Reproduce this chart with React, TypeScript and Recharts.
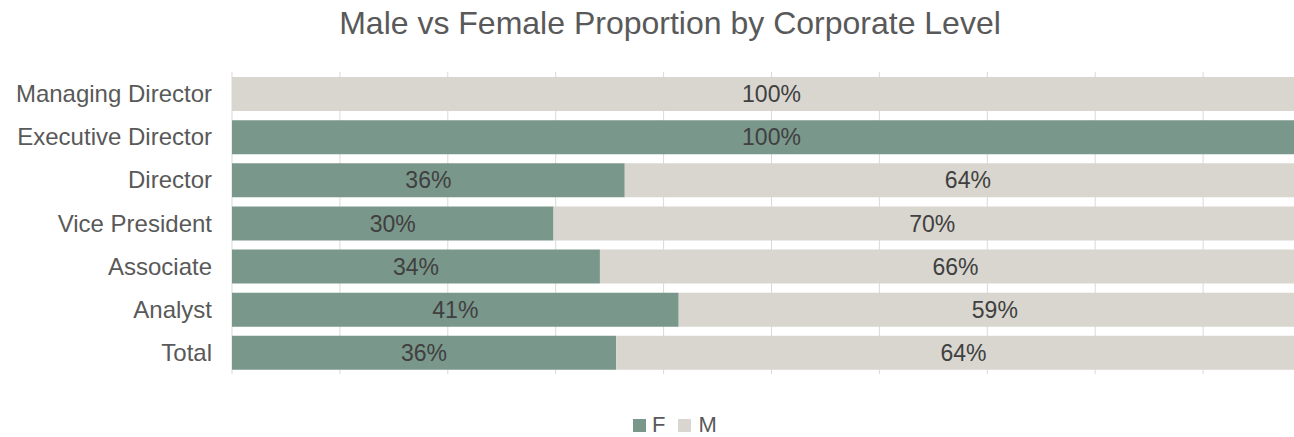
import React from 'react';
import { BarChart, Bar, XAxis, YAxis, CartesianGrid, LabelList } from 'recharts';

const categories = ['Managing Director', 'Executive Director', 'Director', 'Vice President', 'Associate', 'Analyst', 'Total'];
const femaleShare = [0, 1.0, 0.364, 0.298, 0.341, 0.414, 0.356];
const maleShare = [1.0, 0, 0.636, 0.702, 0.659, 0.586, 0.644];
const xTicks = [0, 0.1, 0.2, 0.3, 0.4, 0.5, 0.6, 0.7, 0.8, 0.9, 1.0];

const data = categories.map((name, i) => ({ name, F: femaleShare[i], M: maleShare[i] }));

const F_COLOR = '#7a978b';
const M_COLOR = '#d9d6cf';
const FONT = 'Liberation Sans';

const fmt = (v: any) => (Number(v) > 0 ? `${Math.round(Number(v) * 100)}%` : '');

export default function App() {
  return (
    <div style={{ position: 'relative', width: 1294, height: 437, overflow: 'hidden', fontFamily: FONT, background: '#fff' }}>
      <style>{`body{margin:0;overflow:hidden}`}</style>
      <div style={{ position: 'absolute', top: 3, left: 0, width: 1340, textAlign: 'center', fontSize: 32, lineHeight: '40px', color: '#595959', fontFamily: FONT }}>
        Male vs Female Proportion by Corporate Level
      </div>
      <div style={{ position: 'absolute', top: 0, left: 0 }}>
        <BarChart width={1330} height={437} layout="vertical" data={data} margin={{ top: 72, right: 19, bottom: 63, left: 0 }}>
          <CartesianGrid horizontal={false} vertical={true} stroke="#d9d9d9" strokeWidth={1} />
          <XAxis type="number" domain={[0, 1]} ticks={xTicks} hide />
          <YAxis
            type="category"
            dataKey="name"
            width={232}
            tickLine={false}
            axisLine={false}
            tickSize={0}
            tickMargin={20}
            tick={{ fill: '#595959', fontSize: 24, fontFamily: FONT }}
          />
          <Bar dataKey="F" stackId="a" fill={F_COLOR} barSize={34} isAnimationActive={false}>
            <LabelList dataKey="F" position="center" formatter={fmt} style={{ fill: '#404040', fontSize: 23, fontFamily: FONT }} />
          </Bar>
          <Bar dataKey="M" stackId="a" fill={M_COLOR} barSize={34} isAnimationActive={false}>
            <LabelList dataKey="M" position="center" formatter={fmt} style={{ fill: '#404040', fontSize: 23, fontFamily: FONT }} />
          </Bar>
        </BarChart>
      </div>
      <div style={{ position: 'absolute', top: 412, left: 633, display: 'flex', alignItems: 'center', fontSize: 22, lineHeight: '26px', color: '#595959', fontFamily: FONT }}>
        <span style={{ display: 'inline-block', width: 13, height: 13, background: F_COLOR, marginRight: 6 }} />
        <span style={{ marginRight: 13 }}>F</span>
        <span style={{ display: 'inline-block', width: 13, height: 13, background: M_COLOR, marginRight: 7 }} />
        <span>M</span>
      </div>
    </div>
  );
}
